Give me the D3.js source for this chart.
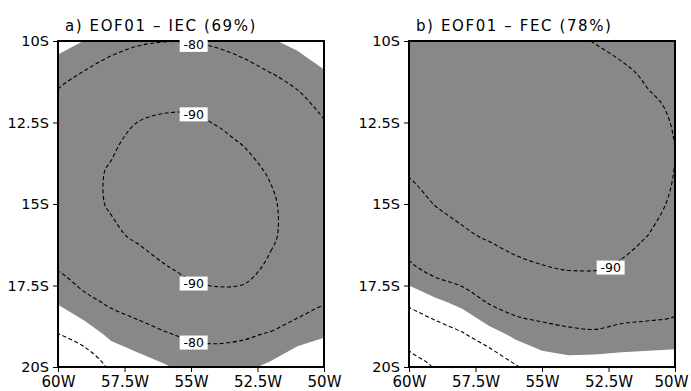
<!DOCTYPE html>
<html>
<head>
<meta charset="utf-8">
<script src="https://cdn.jsdelivr.net/npm/d3@7"></script>
<style>
  body { margin: 0; background: #fff; }
  svg { display: block; }
  text { font-family: "DejaVu Sans", sans-serif; fill: #000; }
</style>
</head>
<body>
<div id="chart"></div>
<script>
// grid (degrees W / degrees S)
const lons = [60, 59, 58, 57, 56, 55, 54, 53, 52, 51, 50];
const lats = [10, 11, 12, 13, 14, 15, 16, 17, 18, 19, 20];
const lonTicks = [60, 57.5, 55, 52.5, 50];
const latTicks = [10, 12.5, 15, 17.5, 20];
const titles = ["a) EOF01 \u2013 IEC (69%)", "b) EOF01 \u2013 FEC (78%)"];
const levels = [-90, -80, -70, -60];
const shadeLevel = -75;

// EOF1 loadings, one row per latitude (10S..20S), west to east
const iecRows = [
  [-73, -75.1, -77.5, -79, -79.8, -79.7, -78.5, -76.5, -75.5, -73.5, -71.5],
  [-77.8, -80.5, -83, -85.5, -86.5, -87, -85.5, -83, -80.1, -78.5, -75.5],
  [-82.5, -84.5, -86.5, -88.8, -89.3, -89.3, -88.7, -87.5, -84.5, -81.5, -79],
  [-84.5, -87, -89, -91.3, -92.5, -92.5, -90.8, -89.5, -87.5, -84.5, -81.5],
  [-85.5, -88.5, -90.5, -93, -94.5, -95.5, -93.5, -91.5, -89.5, -86.5, -83],
  [-85.5, -88.5, -90.5, -93, -95, -96, -94.5, -92.5, -90.8, -87.5, -83.5],
  [-84, -87, -89, -90.7, -93.5, -95, -94, -92.5, -90.8, -87.5, -83],
  [-80.3, -83.5, -85.5, -87.5, -89.3, -91.5, -92.3, -91.5, -89, -86, -82],
  [-75.5, -78.5, -81, -83, -84.5, -87, -88, -88.2, -85, -83, -80.5],
  [-69.8, -72.5, -76, -77.5, -79.5, -81, -81.2, -80.8, -79.5, -77, -75.5],
  [-64, -66, -71, -73, -74.5, -76.5, -77, -76, -74, -71.5, -70.5]
];
const fecRows = [
  [-94, -94.5, -95, -95.5, -96, -96, -91.5, -89.7, -87.5, -85.5, -83],
  [-95, -95.5, -96, -96.5, -97, -97, -94, -93, -91.5, -88.8, -86],
  [-94.5, -95, -95.5, -96, -96.5, -96.5, -95, -94.5, -93, -91.3, -89],
  [-93, -94, -94.5, -95, -95.5, -96, -95, -95, -93.5, -92, -89.9],
  [-90.7, -92.5, -93, -94, -94.5, -95, -94.5, -95, -93.5, -92, -89.9],
  [-87, -90.3, -91.5, -92.5, -93.5, -94, -94, -94.5, -93, -91.5, -89.2],
  [-84, -86, -89.2, -90.5, -92, -92.5, -92.5, -93, -91.5, -89.9, -86.5],
  [-78.5, -82, -84, -87, -88.5, -89.6, -90.2, -90.2, -89.3, -86.5, -84],
  [-71.5, -74, -76.5, -80.5, -83, -84, -85, -85.5, -84, -83.5, -82],
  [-63, -67, -69.5, -73, -76, -77.5, -78.5, -79, -78, -77.5, -77.5],
  [-57, -60.5, -63, -65.5, -69.5, -72.5, -73, -72.5, -72.5, -72.5, -72]
];

// contour labels
const iecLabels = [
  { lon: 54.9, lat: 10.12, text: "-80" },
  { lon: 54.9, lat: 12.25, text: "-90" },
  { lon: 54.9, lat: 17.44, text: "-90" },
  { lon: 54.9, lat: 19.25, text: "-80" }
];
const fecLabels = [
  { lon: 52.42, lat: 16.95, text: "-90" }
];

const W = 691, H = 391;
const panels = [
  { id: "a", left: 58, rows: iecRows, labels: iecLabels, title: titles[0] },
  { id: "b", left: 409, rows: fecRows, labels: fecLabels, title: titles[1] }
];
const plotW = 266, plotTop = 41, plotH = 326;

const svg = d3.select("#chart").append("svg")
  .attr("width", W)
  .attr("height", H);

panels.forEach(p => {
  const x = d3.scaleLinear().domain([lons[0], lons[lons.length - 1]]).range([p.left, p.left + plotW]);
  const y = d3.scaleLinear().domain([lats[0], lats[lats.length - 1]]).range([plotTop, plotTop + plotH]);

  // contour grid coords -> lon/lat (cell centres sit at i + 0.5)
  const gx = d3.scaleLinear().domain([0.5, lons.length - 0.5]).range([lons[0], lons[lons.length - 1]]);
  const gy = d3.scaleLinear().domain([0.5, lats.length - 0.5]).range([lats[0], lats[lats.length - 1]]);

  const g = svg.append("g");

  g.append("clipPath").attr("id", "clip-" + p.id)
    .append("rect")
    .attr("x", p.left).attr("y", plotTop)
    .attr("width", plotW).attr("height", plotH);

  const inner = g.append("g").attr("clip-path", `url(#clip-${p.id})`);

  // negate so contours enclose the more negative side
  const values = p.rows.flat().map(v => -v);
  const contours = d3.contours().size([lons.length, lats.length]);

  const path = d3.geoPath(d3.geoTransform({
    point: function(px, py) { this.stream.point(x(gx(px)), y(gy(py))); }
  }));

  // shading
  inner.append("path")
    .datum(contours.contour(values, -shadeLevel))
    .attr("fill", "#888888")
    .attr("d", path);

  // contour lines, smoothed
  const line = d3.line().curve(d3.curveCatmullRomClosed.alpha(0.5));
  levels.forEach(lv => {
    const c = contours.contour(values, -lv);
    c.coordinates.forEach(poly => {
      poly.forEach(ring => {
        const pts = ring.slice(0, -1).map(([px, py]) => [x(gx(px)), y(gy(py))]);
        if (pts.length < 3) return;
        inner.append("path")
          .attr("d", line(pts))
          .attr("fill", "none")
          .attr("stroke", "#000")
          .attr("stroke-width", 1.1)
          .attr("stroke-dasharray", "4,2.5");
      });
    });
  });

  // axes
  const yAxis = g.append("g")
    .attr("transform", `translate(${p.left},0)`)
    .call(d3.axisLeft(y).tickValues(latTicks).tickSize(5).tickPadding(4)
      .tickFormat(d => d + "S"));
  yAxis.selectAll("text").style("font-size", "14.5px");

  const xAxis = g.append("g")
    .attr("transform", `translate(0,${plotTop + plotH})`)
    .call(d3.axisBottom(x).tickValues(lonTicks).tickSize(5).tickPadding(4)
      .tickFormat(d => d + "W"));
  // keep the last label inside the picture
  xAxis.selectAll("text")
    .style("font-size", "15px")
    .attr("dx", function(d) {
      const half = this.getComputedTextLength() / 2;
      const over = x(d) + half - (W - 3);
      return over > 0 ? -over : 0;
    });

  g.selectAll(".domain").remove();
  g.selectAll(".tick line").attr("stroke", "#000");

  // frame
  g.append("rect")
    .attr("x", p.left).attr("y", plotTop)
    .attr("width", plotW).attr("height", plotH)
    .attr("fill", "none")
    .attr("stroke", "#000")
    .attr("stroke-width", 2);

  // contour labels
  const lab = g.selectAll(".clab").data(p.labels).enter().append("g")
    .attr("transform", d => `translate(${x(d.lon)},${y(d.lat)})`);
  lab.append("rect")
    .attr("x", -14).attr("y", -7)
    .attr("width", 28).attr("height", 14)
    .attr("fill", "#fff");
  lab.append("text")
    .attr("text-anchor", "middle")
    .attr("dy", "0.36em")
    .style("font-size", "12.5px")
    .text(d => d.text);

  // title
  g.append("text")
    .attr("x", p.left + 7)
    .attr("y", 31)
    .style("font-size", "15px")
    .style("letter-spacing", "1.6px")
    .text(p.title);
});
</script>
</body>
</html>
